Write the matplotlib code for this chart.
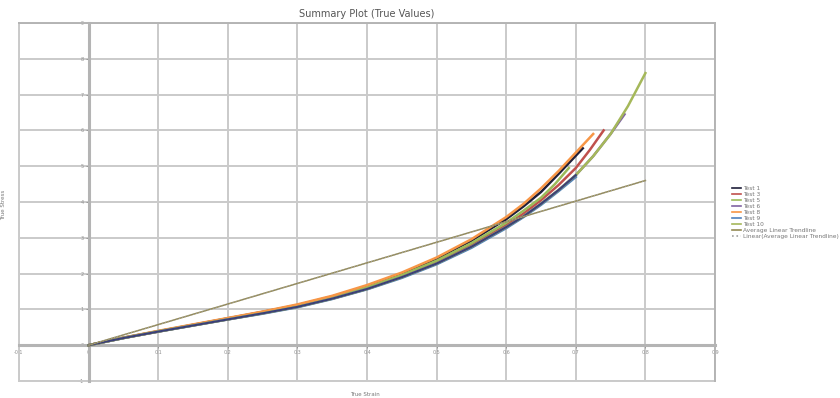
"""
Summary plot of true stress vs true strain for several tensile tests,
with the average linear trendline.
"""
import matplotlib.pyplot as plt

# Strain / stress readings per test
test1_x = [0, .05, .1, .15, .2, .25, .3, .35, .4, .45, .5, .55, .6, .625, .65, .675, .71]
test1_y = [0, .21, .39, .57, .75, .93, 1.12, 1.36, 1.65, 2.0, 2.42, 2.92, 3.52, 3.88, 4.28, 4.78, 5.5]

test3_x = [0, .05, .1, .15, .2, .25, .3, .35, .4, .45, .5, .55, .6, .625, .65, .675, .7, .72, .74]
test3_y = [0, .2, .38, .56, .73, .9, 1.09, 1.32, 1.6, 1.93, 2.32, 2.8, 3.35, 3.68, 4.05, 4.47, 4.95, 5.45, 6.0]

test5_x = [0, .05, .1, .15, .2, .25, .3, .35, .4, .45, .5, .55, .6, .625, .65, .67, .69]
test5_y = [0, .2, .39, .56, .74, .92, 1.1, 1.34, 1.62, 1.96, 2.36, 2.85, 3.42, 3.76, 4.12, 4.5, 4.95]

test6_x = [0, .05, .1, .15, .2, .25, .3, .35, .4, .45, .5, .55, .6, .625, .65, .675, .7, .725, .75, .77]
test6_y = [0, .2, .38, .55, .72, .89, 1.07, 1.3, 1.57, 1.9, 2.28, 2.75, 3.3, 3.6, 3.95, 4.33, 4.75, 5.28, 5.9, 6.45]

test8_x = [0, .05, .1, .15, .2, .25, .3, .35, .4, .45, .5, .55, .6, .625, .65, .675, .7, .725]
test8_y = [0, .21, .4, .58, .76, .94, 1.14, 1.38, 1.68, 2.03, 2.45, 2.96, 3.58, 3.95, 4.38, 4.86, 5.38, 5.9]

test9_x = [0, .05, .1, .15, .2, .25, .3, .35, .4, .45, .5, .55, .6, .625, .65, .675, .7]
test9_y = [0, .2, .38, .55, .72, .88, 1.06, 1.29, 1.56, 1.88, 2.26, 2.72, 3.27, 3.58, 3.92, 4.3, 4.7]

test10_x = [0, .05, .1, .15, .2, .25, .3, .35, .4, .45, .5, .55, .6, .625, .65, .675, .7,
            .725, .75, .775, .8]
test10_y = [0, .2, .38, .55, .72, .89, 1.07, 1.3, 1.57, 1.9, 2.28, 2.75, 3.3, 3.6, 3.95, 4.33, 4.75,
            5.28, 5.9, 6.68, 7.6]

trend_x = [0, 0.8]
trend_y = [0, 4.6]

series = [
    ("Test 1", test1_x, test1_y, "#1F1F3A"),
    ("Test 3", test3_x, test3_y, "#C0504D"),
    ("Test 5", test5_x, test5_y, "#9BBB59"),
    ("Test 6", test6_x, test6_y, "#8064A2"),
    ("Test 8", test8_x, test8_y, "#F79646"),
    ("Test 9", test9_x, test9_y, "#4F81BD"),
    ("Test 10", test10_x, test10_y, "#A5B85A"),
]

fig = plt.figure(figsize=(8.4, 3.98), dpi=100)
ax = fig.add_axes([19 / 840, 1 - 381 / 398, (715 - 19) / 840, (381 - 23) / 398])

grid_c = '#CACACA'
for name, xs, ys, col in series:
    ax.plot(xs, ys, color=col, linewidth=1.8, label=name, zorder=3)
# navy/purple overlay that dominates the lower part of the bundle
ax.plot(test10_x[:-4], test10_y[:-4], color='#3B3F7A', linewidth=1.5, zorder=3.5)

ax.plot(trend_x, trend_y, color='#948A54', linewidth=1.1, label='Average Linear Trendline', zorder=4)
ax.plot(trend_x, trend_y, color='#A0A0A0', linewidth=0.8, linestyle=':',
        label='Linear(Average Linear Trendline)', zorder=4)

ax.set_xlim(-0.1, 0.9)
ax.set_ylim(-1, 9)
ax.set_xticks([-0.1, 0, 0.1, 0.2, 0.3, 0.4, 0.5, 0.6, 0.7, 0.8, 0.9])
ax.set_xticklabels(['-0.1', '0', '0.1', '0.2', '0.3', '0.4', '0.5', '0.6', '0.7', '0.8', '0.9'])
ax.set_yticks(range(-1, 10))
ax.grid(True, color=grid_c, linewidth=1.4, zorder=0)
ax.set_axisbelow(True)

# axes cross at zero, like Excel
ax.spines['left'].set_position(('data', 0))
ax.spines['bottom'].set_position(('data', 0))
for s in ax.spines.values():
    s.set_color('#B4B4B4')
    s.set_linewidth(1.4)
ax.spines['left'].set_linewidth(2.2)
ax.spines['bottom'].set_linewidth(2.2)
ax.axvline(-0.1, color=grid_c, linewidth=1.4, clip_on=False)
ax.axhline(-1, color=grid_c, linewidth=1.4, clip_on=False)

ax.tick_params(axis='both', labelsize=3.5, colors='#909090', length=2, width=0.6, pad=1.5)

ax.set_title("Summary Plot (True Values)", fontsize=7, color='#555555', pad=4)
fig.text(365 / 840, 1 - 395 / 398, "True Strain", fontsize=4, color='#777777', ha='center', va='center')
fig.text(4 / 840, 1 - 205 / 398, "True Stress", fontsize=4, color='#777777', rotation=90,
         ha='center', va='center')

leg = ax.legend(loc='upper left', bbox_to_anchor=(729 / 840, 1 - 183 / 398),
                bbox_transform=fig.transFigure, frameon=False, fontsize=4.2,
                handlelength=1.6, handletextpad=0.3, labelspacing=0.15, borderpad=0)
for t in leg.get_texts():
    t.set_color('#777777')
for h in leg.get_lines():
    h.set_linewidth(1.2)

fig.savefig('out.png', dpi=100, facecolor='white')
